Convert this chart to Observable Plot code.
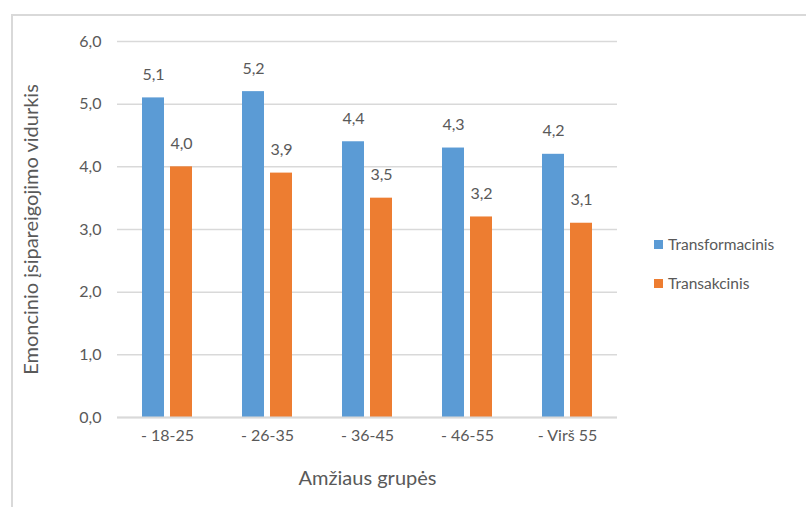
<!DOCTYPE html>
<html>
<head>
<meta charset="utf-8">
<script src="https://cdn.jsdelivr.net/npm/d3@7"></script>
<script src="https://cdn.jsdelivr.net/npm/@observablehq/plot@0.6"></script>
<style>
  html, body { margin: 0; padding: 0; background: #fff; }
  #wrap { position: relative; width: 806px; height: 507px; overflow: hidden; font-family: Lato, "Open Sans", sans-serif; }
  #frame { position: absolute; left: 11px; top: 14px; width: 900px; height: 600px; border-left: 2px solid #d9d9d9; border-top: 2px solid #d9d9d9; }
  #chart { position: absolute; left: 0; top: 0; }
  #legend { position: absolute; left: 654px; top: 234px; color: #595959; font-size: 15.5px; }
  #legend .item { display: flex; align-items: center; height: 20px; margin-bottom: 19px; }
  #legend .sw { width: 9px; height: 9px; margin-right: 5px; }
  #chart g[aria-label$="axis label"] text { font-size: 20px; }
</style>
</head>
<body>
<div id="wrap">
  <div id="frame"></div>
  <div id="chart"></div>
  <div id="legend"></div>
</div>
<script>
const categories = ["- 18-25", "- 26-35", "- 36-45", "- 46-55", "- Virš 55"];
const seriesNames = ["Transformacinis", "Transakcinis"];
const transformacinis = [5.1, 5.2, 4.4, 4.3, 4.2];
const transakcinis = [4.0, 3.9, 3.5, 3.2, 3.1];
const colors = ["#5B9BD5", "#ED7D31"];
const yTicks = [0, 1, 2, 3, 4, 5, 6];

const fmt = v => v.toFixed(1).replace(".", ",");

const data = [];
categories.forEach((c, i) => {
  data.push({cat: c, series: seriesNames[0], value: transformacinis[i]});
  data.push({cat: c, series: seriesNames[1], value: transakcinis[i]});
});

const chart = Plot.plot({
  width: 806,
  height: 507,
  marginLeft: 116,
  marginRight: 188,
  marginTop: 41,
  marginBottom: 90,
  style: {fontFamily: "Lato, 'Open Sans', sans-serif", fontSize: "16px", color: "#595959", background: "transparent"},
  fx: {domain: categories, padding: 0, label: "Amžiaus grupės", labelAnchor: "center", tickSize: 0, tickPadding: 12, labelOffset: 67, axis: "bottom"},
  x: {domain: seriesNames, paddingInner: 0.2, paddingOuter: 0.83, axis: null},
  y: {domain: [0, 6], ticks: yTicks, tickFormat: fmt, tickSize: 0, tickPadding: 16, label: "Emoncinio įsipareigojimo vidurkis", labelAnchor: "center", labelOffset: 94, labelArrow: "none"},
  color: {domain: seriesNames, range: colors},
  marks: [
    Plot.ruleY(yTicks, {y: d => d, stroke: "#d9d9d9", strokeWidth: 1.5}),
    Plot.barY(data, {fx: "cat", x: "series", y: "value", fill: "series"}),
    Plot.ruleY([0], {stroke: "#d9d9d9", strokeWidth: 2}),
    Plot.text(data, {fx: "cat", x: "series", y: "value", text: d => fmt(d.value), dy: -23, lineAnchor: "middle", fill: "#595959", fontSize: 16})
  ]
});
document.getElementById("chart").appendChild(chart);

const legend = document.getElementById("legend");
seriesNames.forEach((s, i) => {
  const item = document.createElement("div");
  item.className = "item";
  const sw = document.createElement("span");
  sw.className = "sw";
  sw.style.background = colors[i];
  const t = document.createElement("span");
  t.textContent = s;
  item.appendChild(sw);
  item.appendChild(t);
  legend.appendChild(item);
});
</script>
</body>
</html>
